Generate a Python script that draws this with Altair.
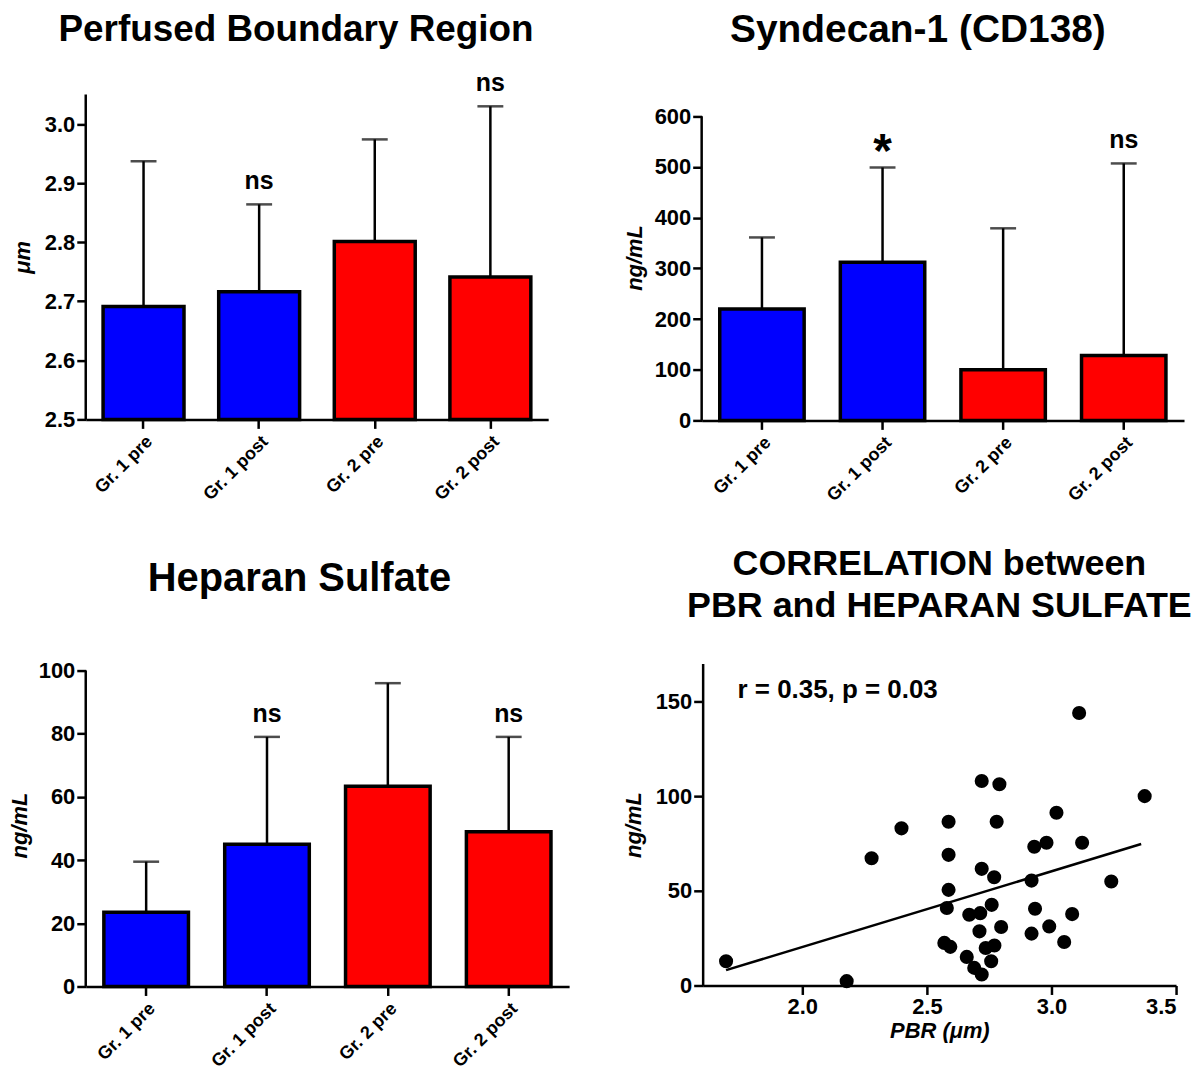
import altair as alt
import pandas as pd

FONT = "Liberation Sans"

# ---------------- data ----------------
groups = ["Gr. 1 pre", "Gr. 1 post", "Gr. 2 pre", "Gr. 2 post"]
bar_colors = ["#0000ff", "#0000ff", "#ff0000", "#ff0000"]

pbr_mean = [2.691, 2.716, 2.801, 2.741]
pbr_upper = [2.937, 2.864, 2.974, 3.030]
pbr_sig = ["", "ns", "", "ns"]

syn_mean = [220, 312, 100, 128]
syn_upper = [361, 499, 379, 507]
syn_sig = ["", "*", "", "ns"]

hs_mean = [23.5, 45, 63.4, 49]
hs_upper = [39.5, 79, 96, 79]
hs_sig = ["", "ns", "", "ns"]

pbr_x = [1.694, 2.178, 2.278, 2.398, 2.587, 2.587, 2.587, 2.580, 2.570, 2.594,
         2.720, 2.791, 2.780, 2.720, 2.770, 2.760, 2.670, 2.714, 2.711, 2.798,
         2.660, 2.736, 2.771, 2.758, 2.690, 2.720, 3.111, 3.374, 3.020, 2.931,
         2.980, 3.123, 2.920, 3.240, 2.934, 3.083, 2.991, 2.920, 3.051]
hs_y = [12.8, 2.3, 67.2, 83.0, 86.5, 69.0, 50.5, 40.9, 22.5, 20.4,
        108.0, 106.3, 86.5, 61.6, 57.2, 42.6, 37.4, 38.2, 28.6, 30.9,
        15.1, 19.8, 21.1, 12.8, 9.3, 5.8, 143.9, 100.0, 91.2, 73.3,
        75.4, 75.4, 55.4, 54.9, 40.5, 37.7, 31.2, 27.4, 23.0]

fit_x = [1.694, 3.36]
fit_y = [8.1, 74.7]

annot_text = ["r = 0.35, p = 0.03"]
annot_x = [1.74]
annot_y = [152]


def bar_panel(title, mean, upper, sig, y_domain, y_ticks, y_axis_top, y_title,
              width, height, title_size, title_offset, title_dx, title_pad):
    df = pd.DataFrame({"group": groups, "mean": mean, "upper": upper,
                       "sig": sig, "color": bar_colors})
    xenc = alt.X("group:N", sort=groups,
                 scale=alt.Scale(paddingInner=0.3, paddingOuter=0.15),
                 axis=alt.Axis(title=None, labelAngle=-45, labelFontSize=18,
                               labelPadding=4, labelAlign="right",
                               labelBaseline="top"))
    yscale = alt.Scale(domain=y_domain, nice=False, zero=False)
    base = alt.Chart(df)
    bars = base.mark_bar(stroke="black", strokeWidth=3.5).encode(
        x=xenc,
        y=alt.Y("mean:Q", scale=yscale,
                axis=alt.Axis(title=y_title, values=y_ticks, domain=False,
                              titlePadding=title_pad,
                              format=".1f" if y_domain[0] > 0 else "d")),
        y2=alt.datum(y_domain[0]),
        color=alt.Color("color:N", scale=None),
    )
    err = base.mark_rule(strokeWidth=2.5, color="black").encode(
        x=alt.X("group:N", sort=groups), y="mean:Q", y2="upper:Q")
    caps = base.mark_tick(thickness=2.5, size=26, color="black").encode(
        x=alt.X("group:N", sort=groups), y="upper:Q")
    ns = base.transform_filter(alt.datum.sig == "ns").mark_text(
        font=FONT, fontSize=25, fontWeight="bold", baseline="bottom", dy=-10,
        color="black").encode(x=alt.X("group:N", sort=groups), y="upper:Q",
                              text="sig:N")
    star = base.transform_filter(alt.datum.sig == "*").mark_text(
        font=FONT, fontSize=48, fontWeight="bold", baseline="alphabetic", dy=0,
        color="black").encode(x=alt.X("group:N", sort=groups), y="upper:Q",
                              text="sig:N")
    yline = alt.Chart(pd.DataFrame({"lo": [y_domain[0]], "hi": [y_axis_top]})).mark_rule(
        strokeWidth=2.5, color="black").encode(
        x=alt.value(0), y="lo:Q", y2="hi:Q")
    return alt.layer(bars, err, caps, ns, star, yline).properties(
        width=width, height=height,
        title=alt.TitleParams(title, fontSize=title_size, offset=title_offset,
                              dx=title_dx, frame="group"))


p1 = bar_panel("Perfused Boundary Region", pbr_mean, pbr_upper, pbr_sig,
               [2.5, 3.05], [2.5, 2.6, 2.7, 2.8, 2.9, 3.0], 3.05, "\u03bcm",
               464, 326, 37, 23, -21, 10)
p2 = bar_panel("Syndecan-1 (CD138)", syn_mean, syn_upper, syn_sig,
               [0, 643], [0, 100, 200, 300, 400, 500, 600], 600, "ng/mL",
               484, 327, 39, 45, -25, 8)
p3 = bar_panel("Heparan Sulfate", hs_mean, hs_upper, hs_sig,
               [0, 102.2], [0, 20, 40, 60, 80, 100], 100, "ng/mL",
               485, 324, 40, 61, -28, 7)

sc_df = pd.DataFrame({"pbr": pbr_x, "hs": hs_y})
fit_df = pd.DataFrame({"pbr": fit_x, "hs": fit_y})
an_df = pd.DataFrame({"t": annot_text, "x": annot_x, "y": annot_y})

xs = alt.Scale(domain=[1.6, 3.5], nice=False, zero=False)
ys = alt.Scale(domain=[0, 170], nice=False)
pts = alt.Chart(sc_df).mark_circle(size=200, color="black", opacity=1).encode(
    x=alt.X("pbr:Q", scale=xs,
            axis=alt.Axis(title="PBR (\u03bcm)", values=[2.0, 2.5, 3.0, 3.5],
                          format=".1f", titlePadding=3)),
    y=alt.Y("hs:Q", scale=ys,
            axis=alt.Axis(title="ng/mL", values=[0, 50, 100, 150], titlePadding=10)),
)
fit = alt.Chart(fit_df).mark_line(color="black", strokeWidth=2.5).encode(
    x=alt.X("pbr:Q", scale=xs), y=alt.Y("hs:Q", scale=ys))
ann = alt.Chart(an_df).mark_text(font=FONT, fontSize=26, fontWeight="bold",
                                 align="left", baseline="alphabetic",
                                 color="black").encode(
    x=alt.X("x:Q", scale=xs), y=alt.Y("y:Q", scale=ys), text="t:N")
p4 = alt.layer(pts, fit, ann).properties(
    width=475, height=323,
    title=alt.TitleParams(["CORRELATION between", "PBR and HEPARAN SULFATE"],
                          fontSize=36, offset=39, lineHeight=42, frame="group"))

row1 = alt.hconcat(p1, p2, spacing=75)
row2 = alt.hconcat(p3, p4, spacing=53)

chart = alt.vconcat(row1, row2, spacing=41).properties(
    padding=0
).configure_view(stroke=None).configure_axis(
    domainColor="black", domainWidth=2.5, tickColor="black", tickWidth=2.5,
    tickSize=9, labelFont=FONT, labelFontWeight="bold", labelFontSize=22,
    labelColor="black", labelPadding=2, grid=False, titleFont=FONT,
    titleFontStyle="italic", titleFontWeight="bold", titleFontSize=22,
    titleColor="black"
).configure_title(
    font=FONT, fontSize=35, fontWeight="bold", color="black", anchor="middle"
)

chart.save("out.html", embed_options={"renderer": "svg", "actions": False})
